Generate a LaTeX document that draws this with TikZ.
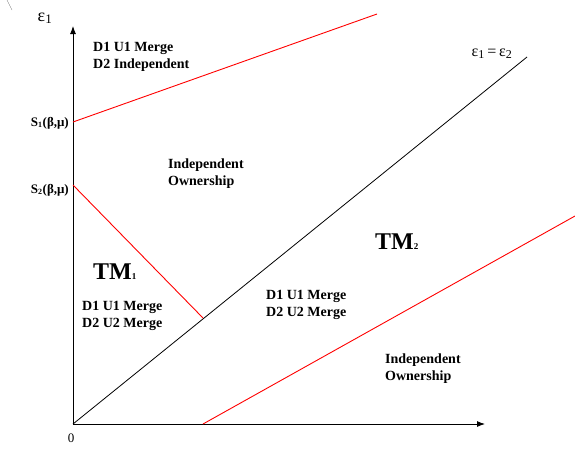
\documentclass[tikz,border=0pt]{standalone}
\usepackage{fontspec}
\setmainfont{Liberation Serif}
\usetikzlibrary{arrows.meta}
\tikzset{
  lbl/.style={font=\fontsize{14}{17}\selectfont\bfseries, align=left, anchor=north west, inner sep=0pt},
  tm/.style={font=\fontsize{24}{26}\selectfont\bfseries, anchor=base west, inner sep=0pt},
  sl/.style={font=\fontsize{13}{15}\selectfont\bfseries, anchor=base east, inner sep=0pt},
  axis/.style={line width=0.9pt, -{Latex[length=8pt,width=6pt]}},
  bound/.style={red, line width=0.9pt},
  diag/.style={black, line width=0.8pt}
}
\begin{document}
\begin{tikzpicture}[x=1pt,y=-1pt]
\useasboundingbox (0,0) rectangle (575,448);
% coordinates
\coordinate (O) at (73,424);
\coordinate (Ytip) at (73,26);
\coordinate (Xtip) at (485,424);
\coordinate (Dend) at (527,57);
\coordinate (S1) at (73,122);
\coordinate (R1end) at (377,14);
\coordinate (S2) at (73,185);
\coordinate (R2end) at (203,318);
\coordinate (R3start) at (203,424);
\coordinate (R3end) at (575,216);
\coordinate (tickA) at (7,0);
\coordinate (tickB) at (12,10);
% stray mark
\draw[gray, line width=0.4pt] (tickA) -- (tickB);
% axes
\draw[axis] (O) -- (Ytip);
\draw[axis] (O) -- (Xtip);
% diagonal
\draw[diag] (O) -- (Dend);
% red boundaries
\draw[bound] (S1) -- (R1end);
\draw[bound] (S2) -- (R2end);
\draw[bound] (R3start) -- (R3end);
% labels
\node[font=\fontsize{18}{20}\selectfont, anchor=base] (e1) at (45,21) {ε\textsubscript{\fontsize{13}{13}\selectfont 1}};
\node[font=\fontsize{16}{18}\selectfont, anchor=base] (e12) at (492,56) {ε\textsubscript{\fontsize{12}{12}\selectfont 1}\,=\,ε\textsubscript{\fontsize{12}{12}\selectfont 2}};
\node[font=\fontsize{13}{15}\selectfont, anchor=base] (zero) at (71,442) {0};
\node[sl] (s1l) at (69,126) {S\textsubscript{\fontsize{8}{8}\selectfont 1}(β,μ)};
\node[sl] (s2l) at (69,193) {S\textsubscript{\fontsize{8}{8}\selectfont 2}(β,μ)};
\node[lbl] (r1) at (93,42) {D1 U1 Merge\\D2 Independent};
\node[lbl] (r2) at (168,159) {Independent\\Ownership};
\node[tm] (tm1) at (93,279) {TM\raisebox{0pt}{\fontsize{9}{9}\selectfont 1}};
\node[lbl] (r3) at (82,301) {D1 U1 Merge\\D2 U2 Merge};
\node[tm] (tm2) at (375,249) {TM\raisebox{0pt}{\fontsize{9}{9}\selectfont 2}};
\node[lbl] (r4) at (266,290) {D1 U1 Merge\\D2 U2 Merge};
\node[lbl] (r5) at (385,354) {Independent\\Ownership};
\end{tikzpicture}
\end{document}
